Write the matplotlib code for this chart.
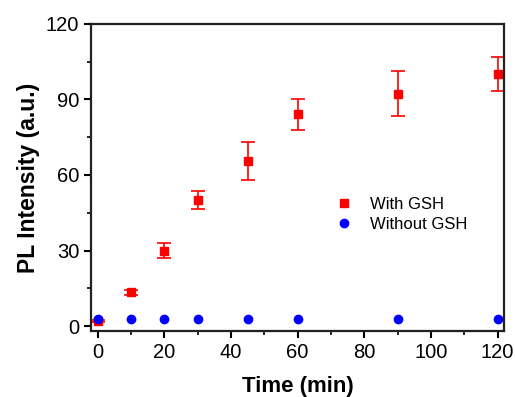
import matplotlib
matplotlib.use('Agg')
import matplotlib.pyplot as plt
from matplotlib.ticker import MultipleLocator

plt.rcParams['font.family'] = ['Liberation Sans', 'DejaVu Sans']

# PL intensity vs time
time = [0, 10, 20, 30, 45, 60, 90, 120]
with_gsh = [2, 13.5, 30, 50, 65.5, 84, 92.3, 100]
with_gsh_err = [0.5, 1, 3, 3.5, 7.5, 6, 8.8, 6.8]
without_gsh = [2.8, 2.8, 2.8, 2.8, 2.8, 2.8, 2.8, 2.8]

fig = plt.figure(figsize=(5.15, 3.97), dpi=100)
ax = fig.add_axes([0.177, 0.166, 0.802, 0.774])

ax.errorbar(time, with_gsh, yerr=with_gsh_err, fmt='none', ecolor='red',
            capsize=5, elinewidth=1.2, capthick=1.2)
ax.plot(time, with_gsh, 's', color='red', ms=5.5, label='With GSH')
ax.plot(time, without_gsh, 'o', color='blue', ms=6, label='Without GSH')

ax.set_xlim(-2, 122)
ax.set_ylim(-2, 120)
ax.xaxis.set_major_locator(MultipleLocator(20))
ax.xaxis.set_minor_locator(MultipleLocator(10))
ax.yaxis.set_major_locator(MultipleLocator(30))
ax.yaxis.set_minor_locator(MultipleLocator(15))
ax.tick_params(which='major', direction='out', length=5, width=1.5, labelsize=14.5)
ax.tick_params(which='minor', direction='out', length=3, width=1.2)
for s in ax.spines.values():
    s.set_linewidth(1.6)
    s.set_color('#222222')

ax.set_xlabel('Time (min)', fontsize=16, fontweight='bold', labelpad=10)
ax.set_ylabel('PL Intensity (a.u.)', fontsize=16.5, fontweight='bold')

ax.legend(loc='center left', bbox_to_anchor=(0.535, 0.38), frameon=False,
          fontsize=12, handletextpad=0.6, labelspacing=0.3)

fig.savefig('out.png', dpi=100)
